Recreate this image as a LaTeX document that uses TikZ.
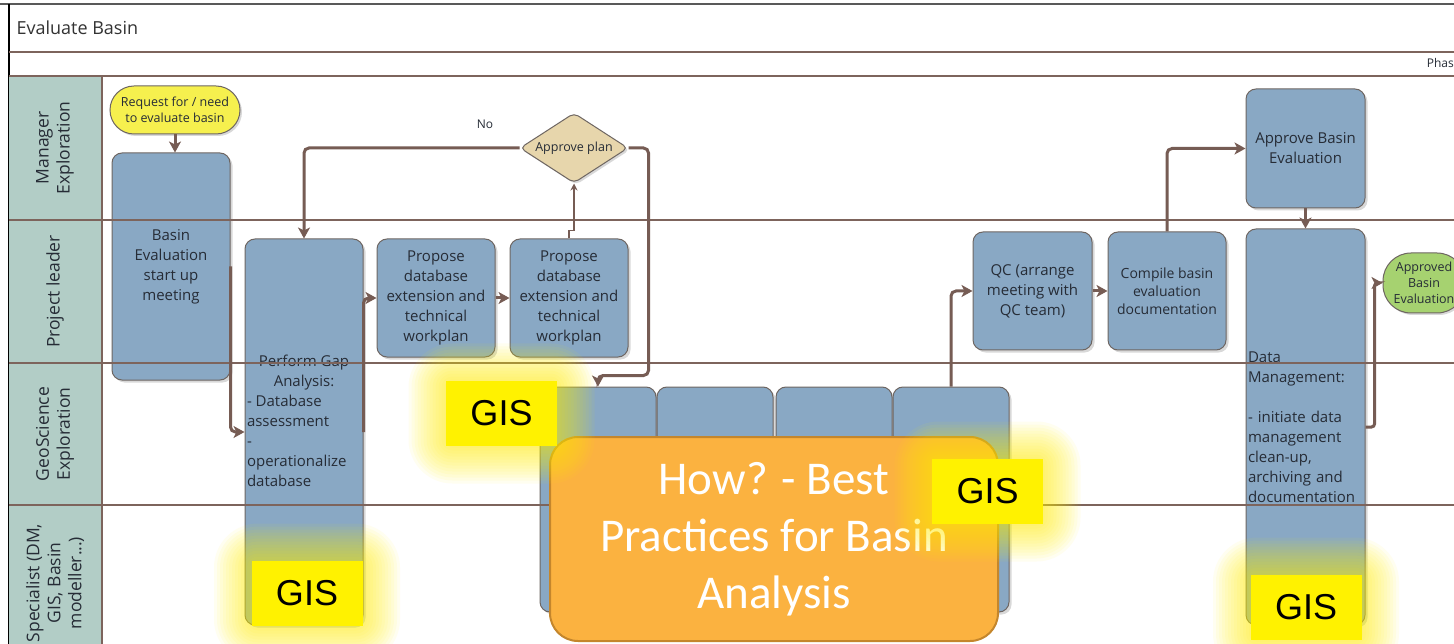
\documentclass[tikz,border=0pt]{standalone}
\usepackage{fontspec}
\setmainfont{Open Sans}
\newfontfamily\calibri{Carlito}
\newfontfamily\arial{Liberation Sans}
\usetikzlibrary{arrows.meta,shapes.geometric,shadows}
\usepackage{xcolor}
\definecolor{lanefill}{RGB}{178,205,198}
\definecolor{laneline}{RGB}{125,100,92}
\definecolor{taskfill}{RGB}{137,168,196}
\definecolor{taskline}{RGB}{110,102,98}
\definecolor{flowline}{RGB}{118,92,84}
\definecolor{textdark}{RGB}{38,44,54}
\definecolor{planfill}{RGB}{231,214,172}
\definecolor{startfill}{RGB}{246,240,78}
\definecolor{endfill}{RGB}{166,210,112}
\definecolor{howfill}{RGB}{251,178,64}
\definecolor{howline}{RGB}{196,134,44}

\begin{document}
\begin{tikzpicture}[
    x=1pt, y=-1pt,
    lane/.style={draw=laneline, line width=1.1pt},
    lanelabel/.style={rotate=90, align=center, text=textdark,
        font=\fontsize{17.5}{21}\selectfont},
    boxsize/.style 2 args={minimum width=#1pt, minimum height=#2pt},
    task/.style={draw=taskline, fill=taskfill, line width=1pt,
        rounded corners=10pt, text=textdark, align=center, inner sep=2pt,
        font=\fontsize{15}{20}\selectfont,
        drop shadow={opacity=0.3, shadow xshift=2.5pt, shadow yshift=-2.5pt}},
    decision/.style={diamond, aspect=1.55, draw=taskline, fill=planfill,
        line width=1pt, rounded corners=5pt, inner sep=0pt, text=textdark,
        font=\fontsize{12.5}{15}\selectfont,
        drop shadow={opacity=0.3, shadow xshift=2pt, shadow yshift=-2pt}},
    terminal/.style={draw=taskline, line width=1pt, align=center,
        text=textdark, inner sep=2pt, font=\fontsize{12.5}{16}\selectfont,
        drop shadow={opacity=0.3, shadow xshift=2pt, shadow yshift=-2pt}},
    flow/.style={draw=flowline, line width=3pt, rounded corners=5pt,
        -{Stealth[length=11pt, width=12pt, inset=3pt]}},
    thinflow/.style={draw=flowline, line width=1.2pt,
        -{Stealth[length=7pt, width=7pt]}},
    howbox/.style={fill=howfill, draw=howline, line width=2pt,
        rounded corners=28pt, text=white, align=center,
        font=\calibri\fontsize{47}{57}\selectfont},
    gis/.style={fill=yellow, inner sep=0pt, boxsize={111}{65},
        font=\arial\fontsize{36}{36}\selectfont},
    glow/.style={fill=yellow, fill opacity=0.06}
]
\clip (0,0) rectangle (1454,644);
\fill[white] (0,0) rectangle (1454,644);

% frame and header
\draw[gray!70!black, line width=1.2pt] (0,4) -- (1454,4);
\draw[black, line width=1.2pt] (9,4) -- (9,644);
\draw[lane] (9,52) -- (1454,52);
\node[anchor=west, text=black!80, font=\fontsize{18}{20}\selectfont]
    (title) at (13,28) {Evaluate Basin};
\node[anchor=east, inner sep=0pt, text=textdark, font=\fontsize{12}{14}\selectfont]
    (phase) at (1454,63) {Phas};

% lane headers
\fill[lanefill] (9,76) rectangle (102,644);
\draw[lane] (102,76) -- (102,644);
\node[lanelabel] (mgr) at (55,148) {Manager\\Exploration};
\node[lanelabel] (lead) at (55,291.5) {Project leader};
\node[lanelabel] (geo) at (55,434) {GeoScience\\Exploration};
\node[lanelabel] (spec) at (55,583) {Specialist (DM,\\GIS, Basin\\modeller...)};

% tasks
\node[terminal, fill=startfill, rounded corners=24pt, boxsize={130}{48}]
    (request) at (175,110) {Request for / need\\to evaluate basin};
\node[task, boxsize={118}{227}] (startup) at (171,266.5)
    {Basin\\Evaluation\\start up\\meeting};
\node[task, boxsize={118}{386}, text width=114pt, align=none] (gap) at (304,432)
    {{\centering Perform Gap\\Analysis:\par}\raggedright - Database\\assessment\\-\\operationalize\\database\par\vspace*{22pt}};
\node[task, boxsize={118}{118}] (propA) at (436,298)
    {Propose\\database\\extension and\\technical\\workplan};
\node[task, boxsize={118}{118}] (propB) at (569,298)
    {Propose\\database\\extension and\\technical\\workplan};
\node[decision, boxsize={108}{70}] (plan) at (574,148) {Approve plan};
\foreach \n/\x in {geoA/598, geoB/715, geoC/834, geoD/951}
    \node[task, boxsize={116}{225}] (\n) at (\x,499.5) {};
\node[task, boxsize={119}{118}] (qc) at (1032.5,291)
    {QC (arrange\\meeting with\\QC team)};
\node[task, boxsize={118}{118}, font=\fontsize{14}{18}\selectfont] (compile)
    at (1167,291) {Compile basin\\evaluation\\documentation};
\node[task, boxsize={119}{119}] (approve) at (1305.5,148.5)
    {Approve Basin\\Evaluation};
\node[task, boxsize={119}{396}, text width=115pt, align=left] (dm) at (1305.5,427)
    {Data\\Management:\\[20pt]- initiate data\\management\\clean-up,\\archiving and\\documentation};
\node[terminal, fill=endfill, rounded corners=28pt, boxsize={82}{60}]
    (approved) at (1424,283) {Approved\\Basin\\Evaluation};

% lane lines
\foreach \y in {76,220,363,505}
    \draw[lane] (9,\y) -- (1454,\y);

% arrows
\draw[flow] (request.south) -- (request.south |- startup.north);
\draw[flow] (startup.east) |- (gap.west);
\draw[flow] (gap.east) |- (propA.west);
\draw[flow] (propA) -- (propB);
\draw[thinflow] (propB.north) -- ++(0,-8) -| (plan.south);
\draw[flow] (plan.west) -| (gap.north)
    node[pos=0.08, above=15pt, text=textdark, font=\fontsize{12}{14}\selectfont] (no) {No};
\draw[flow] (plan.east) -- ++(20,0) |- ([yshift=11pt]geoA.north) -- (geoA.north);
\draw[flow] (geoD.north) |- (qc.west);
\draw[flow] (qc) -- (compile);
\draw[flow] (compile.north) |- (approve.west);
\draw[flow] (approve) -- (dm);
\draw[flow, rounded corners=3pt] (dm.east) -- ++(9,0) |- (approved.west);

% overlay
\node[howbox, boxsize={448}{204}] (how) at (774,539)
    {How? - Best\\Practices for Basin\\Analysis};
\foreach \n/\x/\y in {gisA/501.5/413.5, gisB/987.5/491.5, gisC/307/593.5, gisD/1306/607.5}{
    \foreach \r in {2,5,...,38}
        \fill[glow, rounded corners={\r pt+6pt}] (\x-55-\r,\y-32-\r) rectangle (\x+55+\r,\y+32+\r);
    \node[gis] (\n) at (\x,\y) {GIS};
}

\end{tikzpicture}
\end{document}
